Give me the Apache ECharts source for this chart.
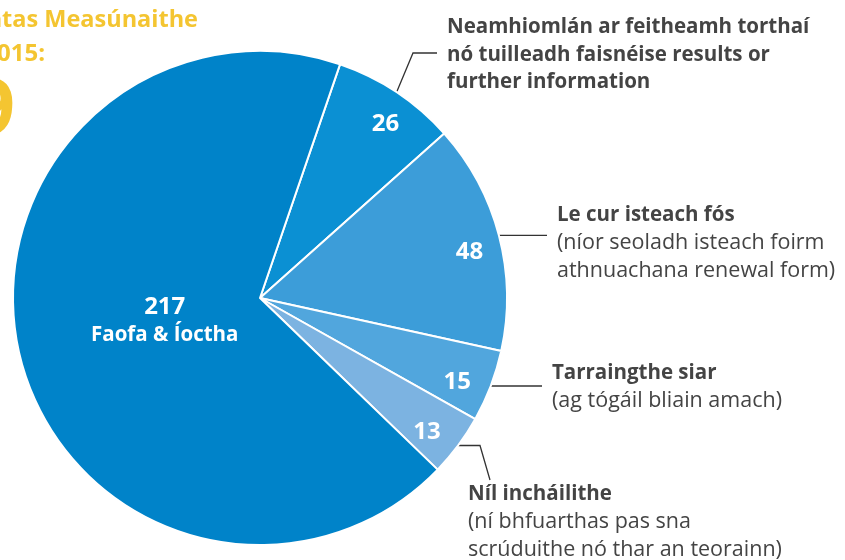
<!DOCTYPE html>
<html>
<head>
<meta charset="utf-8">
<script src="https://cdn.jsdelivr.net/npm/echarts@6/dist/echarts.min.js"></script>
<style>
html,body{margin:0;padding:0;background:#fff;}
#chart{width:845px;height:560px;}
</style>
</head>
<body>
<div id="chart"></div>
<script>
// ---- data ----
const values = [26, 48, 15, 13, 217];
const headLines = [
  ['Neamhiomlán ar feitheamh torthaí', 'nó tuilleadh faisnéise results or', 'further information'],
  ['Le cur isteach fós'],
  ['Tarraingthe siar'],
  ['Níl incháilithe'],
  ['Faofa & Íoctha']
];
const noteLines = [
  [],
  ['(níor seoladh isteach foirm', 'athnuachana renewal form)'],
  ['(ag tógáil bliain amach)'],
  ['(ní bhfuarthas pas sna', 'scrúduithe nó thar an teorainn)'],
  []
];
const titleLines = ['Iarratas Measúnaithe', 'i 2015:'];
const totalValue = '319';

// ---- styles ----
const colors = ['#0B90D3', '#3C9DD9', '#51A6DD', '#7CB3E1', '#0083C9'];
const FONT = '"Open Sans", Roboto, sans-serif';
const INNER_IDX = 4;
const CENTER = [260, 298];
const R = 247;
const START = 71.1;
const LABEL_TURN = 2.2; // value labels sit slightly clockwise of slice middles
// label anchors (left x, vertical middle y) for the outside annotations
const ANCHORS = [[447, 55], [557, 243], [552, 387], [468, 522]];

const data = values.map((v, i) => ({
  value: v,
  name: headLines[i].join(' '),
  itemStyle: { color: colors[i] }
}));

function outsideText(i) {
  const a = headLines[i].map(s => '{b|' + s + '}');
  const b = noteLines[i].map(s => '{n|' + s + '}');
  return a.concat(b).join('\n');
}

const chart = echarts.init(document.getElementById('chart'), null, { renderer: 'canvas' });

const option = {
  animation: false,
  backgroundColor: '#ffffff',
  graphic: [
    { type: 'text', x: 198, y: 20, style: { text: titleLines[0], align: 'right', verticalAlign: 'middle', fill: '#F4C531', font: 'bold 23.5px ' + FONT } },
    { type: 'text', x: 45, y: 54, style: { text: titleLines[1], align: 'right', verticalAlign: 'middle', fill: '#F4C531', font: 'bold 24px ' + FONT } },
    { type: 'text', x: 15, y: 113, style: { text: totalValue, align: 'right', verticalAlign: 'middle', fill: '#F4C531', font: 'bold 78px ' + FONT } }
  ],
  series: [
    {
      type: 'pie',
      center: CENTER,
      radius: [0, R],
      startAngle: START,
      clockwise: true,
      avoidLabelOverlap: false,
      silent: true,
      itemStyle: { borderColor: '#ffffff', borderWidth: 2 },
      label: {
        show: true,
        position: 'outside',
        overflow: 'none',
        formatter: p => p.dataIndex === INNER_IDX ? '' : outsideText(p.dataIndex),
        rich: {
          b: { fontFamily: FONT, fontWeight: 'bold', fontSize: 20.5, color: '#444444', lineHeight: 27.5 },
          n: { fontFamily: FONT, fontWeight: 'normal', fontSize: 21.5, color: '#444444', lineHeight: 27.5 }
        }
      },
      labelLine: { show: true, length: 20, length2: 20, lineStyle: { color: '#333333', width: 1.3 } },
      labelLayout: function (params) {
        const i = params.dataIndex;
        if (i === INNER_IDX || !params.labelLinePoints) return {};
        const p0 = params.labelLinePoints[0];
        const ax = ANCHORS[i][0], ay = ANCHORS[i][1];
        let pts;
        if (i === 0) {
          pts = [p0, [ax - 34, ay - 2], [ax - 10, ay - 2]];
        } else if (i === 3) {
          pts = [p0, [ax + 12, p0[1]], [ax + 22, ay - 42]];
        } else {
          pts = [p0, [(p0[0] + ax - 10) / 2, p0[1]], [ax - 10, p0[1]]];
        }
        return { x: ax, y: ay, align: 'left', verticalAlign: 'middle', labelLinePoints: pts };
      },
      data: data.map((d, i) => i === INNER_IDX ? Object.assign({}, d, { label: { show: false }, labelLine: { show: false } }) : d)
    },
    {
      type: 'pie',
      center: CENTER,
      radius: [176, R],
      startAngle: START - LABEL_TURN,
      clockwise: true,
      silent: true,
      itemStyle: { color: 'rgba(0,0,0,0)', borderWidth: 0 },
      label: {
        show: true,
        position: 'inside',
        formatter: p => p.dataIndex === INNER_IDX ? '' : String(p.value),
        color: '#ffffff', fontFamily: FONT, fontWeight: 'bold', fontSize: 24
      },
      labelLine: { show: false },
      data: values.map((v, i) => ({ value: v, name: headLines[i].join(' ') }))
    },
    {
      type: 'pie',
      center: CENTER,
      radius: [0, 190],
      startAngle: START,
      clockwise: true,
      silent: true,
      itemStyle: { color: 'rgba(0,0,0,0)', borderWidth: 0 },
      label: {
        show: true,
        position: 'inside',
        formatter: p => p.dataIndex === INNER_IDX ? '{v|' + p.value + '}\n{t|' + headLines[INNER_IDX][0] + '}' : '',
        rich: {
          v: { color: '#ffffff', fontFamily: FONT, fontWeight: 'bold', fontSize: 24, lineHeight: 28, align: 'center' },
          t: { color: '#ffffff', fontFamily: FONT, fontWeight: 'bold', fontSize: 20.5, lineHeight: 28, align: 'center' }
        }
      },
      labelLine: { show: false },
      data: values.map((v, i) => ({ value: v, name: headLines[i].join(' ') }))
    }
  ]
};
chart.setOption(option);
</script>
</body>
</html>
